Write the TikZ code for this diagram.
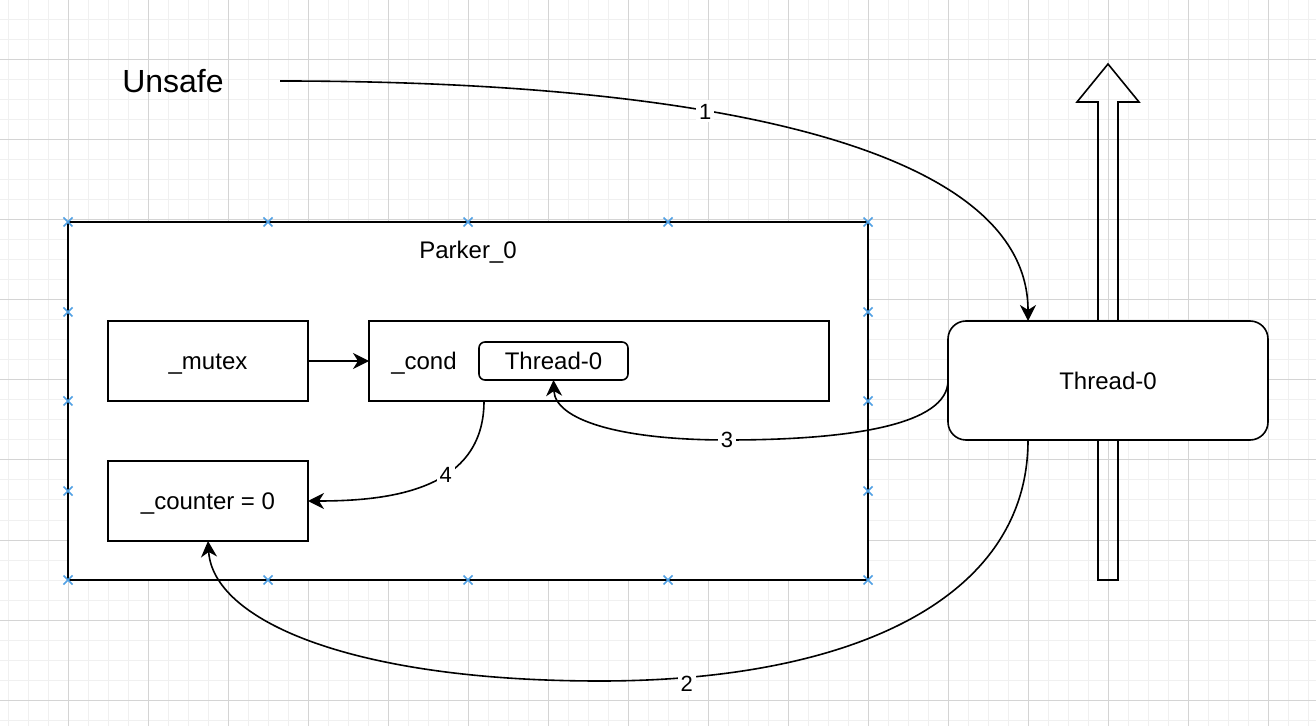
\documentclass[tikz,border=0pt]{standalone}
\usepackage{fontspec}
\setmainfont{Liberation Sans}
\usetikzlibrary{arrows.meta,calc}
\definecolor{gridminor}{RGB}{240,240,240}
\definecolor{gridmajor}{RGB}{212,212,212}
\definecolor{markblue}{RGB}{80,160,228}
\begin{document}
\begin{tikzpicture}[x=0.5pt,y=-0.5pt, line width=0.8pt,
  box/.style={draw, fill=white, inner sep=0pt, outer sep=0pt, text height=8.7pt, text depth=0pt, font=\fontsize{12}{14}\selectfont},
  txt/.style={inner sep=0pt, text height=8.7pt, text depth=0pt, font=\fontsize{12}{14}\selectfont},
  lbl/.style={fill=white, inner sep=1.5pt, text height=8pt, text depth=0pt, font=\fontsize{11}{13}\selectfont},
  arr/.style={-{Stealth[length=8pt,width=8pt,inset=2.5pt]}},
  mk/.style={draw=markblue, line width=0.8pt}]
\useasboundingbox (0,0) rectangle (1316,726);
\fill[white] (0,0) rectangle (1316,726);
% grid
\foreach \x in {8,28,...,1308} \draw[gridminor, line width=0.5pt] (\x,0) -- (\x,726);
\foreach \y in {0,20,...,720} \draw[gridminor, line width=0.5pt] (0,\y) -- (1316,\y);
\foreach \x in {68,148,...,1268} \draw[gridmajor, line width=0.5pt] (\x,0) -- (\x,726);
\foreach \y in {60,140,...,700} \draw[gridmajor, line width=0.5pt] (0,\y) -- (1316,\y);
% hollow arrow
\draw (1098,580) -- (1098,102) -- (1077,102) -- (1108,64) -- (1139,102) -- (1118,102) -- (1118,580) -- cycle;
% boxes
\node[box, minimum width=400pt, minimum height=179pt] (parker) at (468,401) {};
\node[txt] (plabel) at (468,250) {Parker\_0};
\node[box, minimum width=100pt, minimum height=40pt] (mutex) at (208,361) {\_mutex};
\node[box, minimum width=230pt, minimum height=40pt] (cond) at (599,361) {};
\node[txt] (condlabel) at (424,361) {\_cond};
\node[box, rounded corners=3pt, minimum width=74.5pt, minimum height=19pt] (ti) at (553.5,361) {Thread-0};
\node[box, minimum width=100pt, minimum height=40pt] (counter) at (208,501) {\_counter = 0};
\node[box, rounded corners=9pt, minimum width=160pt, minimum height=59.5pt] (th) at (1108,380.5) {Thread-0};
\node[inner sep=0pt, text height=11.6pt, text depth=0pt, font=\fontsize{16}{19}\selectfont] (unsafe) at (173,81) {Unsafe};
% connectors
\coordinate (ustart) at (280,81);
\draw[arr] (ustart) .. controls (720,81) and (1028,150) .. ($(th.north west)+(80,0)$) node[lbl,pos=0.37] (l1) {1};
\draw[arr] (mutex.east) -- (cond.west);
\draw[arr] ($(th.south west)+(80,0)$) .. controls (1028,600) and (850,681) .. (600,681) node[lbl,pos=0.88,yshift=-3pt] (l2) {2} .. controls (350,681) and (213,620) .. (counter.south);
\draw[arr] (th.west) .. controls (948,425) and (850,440) .. (727,440) node[lbl] (l3) {3} .. controls (620,440) and (555,420) .. (ti.south);
\draw[arr] ($(cond.south west)+(115,0)$) .. controls (484,490) and (390,501) .. (counter.east) node[lbl,pos=0.4] (l4) {4};
% markers
\foreach \x/\y in {68/222,268/222,468/222,668/222,868/222,68/580,268/580,468/580,668/580,868/580,68/312,68/401,68/491,868/312,868/401,868/491}
  \draw[mk] (\x-4.5,\y-4.5) -- (\x+4.5,\y+4.5) (\x-4.5,\y+4.5) -- (\x+4.5,\y-4.5);
\end{tikzpicture}
\end{document}
